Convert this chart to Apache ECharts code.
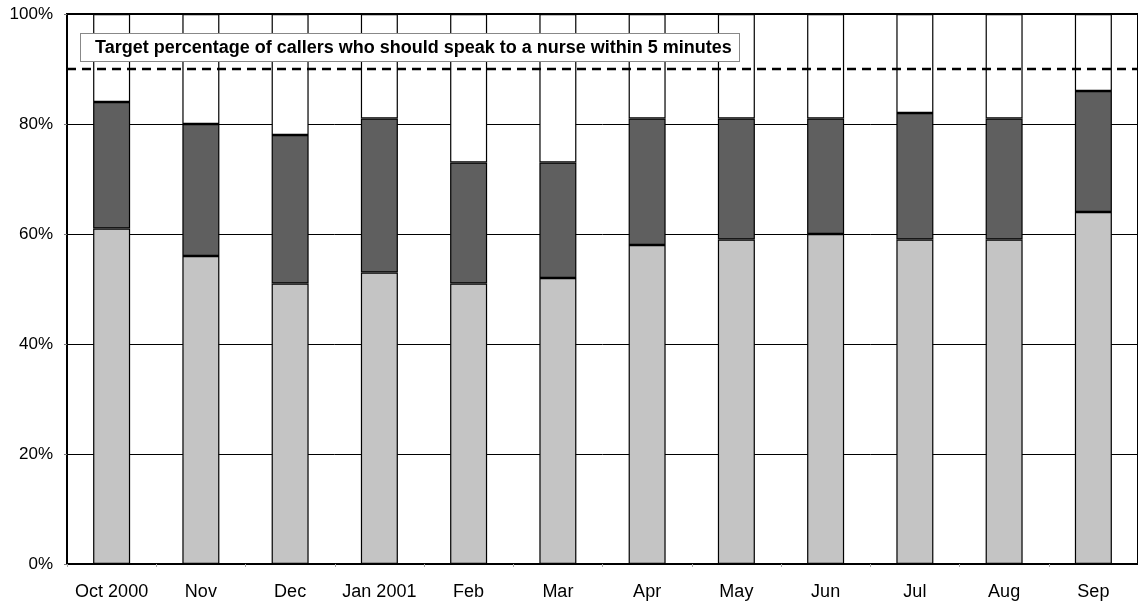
<!DOCTYPE html>
<html>
<head>
<meta charset="utf-8">
<script src="https://cdn.jsdelivr.net/npm/echarts@6/dist/echarts.min.js"></script>
<style>
  html, body { margin: 0; padding: 0; background: #fff; }
  #chart { width: 1138px; height: 602px; }
</style>
</head>
<body>
<div id="chart"></div>
<script>
// Months shown along the bottom axis
const months = ['Oct 2000', 'Nov', 'Dec', 'Jan 2001', 'Feb', 'Mar', 'Apr', 'May', 'Jun', 'Jul', 'Aug', 'Sep'];
// Share of callers (%) in the lower, light band of each bar
const lightShare = [61, 56, 51, 53, 51, 52, 58, 59, 60, 59, 59, 64];
// Share of callers (%) in the dark band stacked on top of it
const darkShare = [23, 24, 27, 28, 22, 21, 23, 22, 21, 23, 22, 22];
// Target level (%) drawn as the dashed line
const targetPct = 90;
const targetText = 'Target percentage of callers who should speak to a nurse within 5 minutes';
// Tick values for the percentage axis
const yTicks = [0, 20, 40, 60, 80, 100];

// Remainder up to 100% fills the rest of each column in white
const restShare = lightShare.map((v, i) => 100 - v - darkShare[i]);

const font = '"Liberation Sans", Arial, sans-serif';
const edge = { borderColor: '#000', borderWidth: 1.2 };

const chart = echarts.init(document.getElementById('chart'), null, { renderer: 'canvas' });
chart.setOption({
  animation: false,
  backgroundColor: '#fff',
  grid: {
    left: 67, top: 14, width: 1072, bottom: 38,
    show: true, borderColor: '#000', borderWidth: 2, backgroundColor: 'transparent'
  },
  xAxis: {
    type: 'category',
    data: months,
    axisLine: { lineStyle: { color: '#000', width: 2 } },
    axisTick: { show: true, length: 3, lineStyle: { color: '#aaa', width: 1 } },
    axisLabel: { color: '#000', fontFamily: font, fontSize: 18, margin: 19, interval: 0 },
    splitLine: { show: false }
  },
  yAxis: {
    type: 'value',
    min: yTicks[0],
    max: yTicks[yTicks.length - 1],
    interval: yTicks[1] - yTicks[0],
    axisLine: { show: true, lineStyle: { color: '#000', width: 2 } },
    axisTick: { show: true, length: 3, lineStyle: { color: '#777', width: 1 } },
    axisLabel: { color: '#000', fontFamily: font, fontSize: 17, margin: 14, formatter: '{value}%' },
    splitLine: { show: true, lineStyle: { color: '#000', width: 1 } }
  },
  series: [
    {
      type: 'bar', stack: 'calls', barWidth: 37,
      data: lightShare,
      itemStyle: Object.assign({ color: '#c4c4c4' }, edge)
    },
    {
      type: 'bar', stack: 'calls', barWidth: 37,
      data: darkShare,
      itemStyle: Object.assign({ color: '#5f5f5f' }, edge)
    },
    {
      type: 'bar', stack: 'calls', barWidth: 37,
      data: restShare,
      itemStyle: Object.assign({ color: '#fff' }, edge),
      z: 3,
      markLine: {
        silent: true,
        symbol: 'none',
        label: { show: false },
        lineStyle: { color: '#000', width: 2.4, type: [9, 6] },
        data: [{ yAxis: targetPct }]
      }
    }
  ],
  graphic: [
    {
      type: 'text',
      left: 80, top: 33,
      z: 100,
      style: {
        text: targetText,
        font: 'bold 18px ' + font,
        fill: '#000',
        backgroundColor: '#fff',
        borderColor: '#888',
        borderWidth: 1,
        padding: [5, 10, 4, 14],
        width: 634,
        overflow: 'none'
      }
    }
  ]
});
</script>
</body>
</html>
